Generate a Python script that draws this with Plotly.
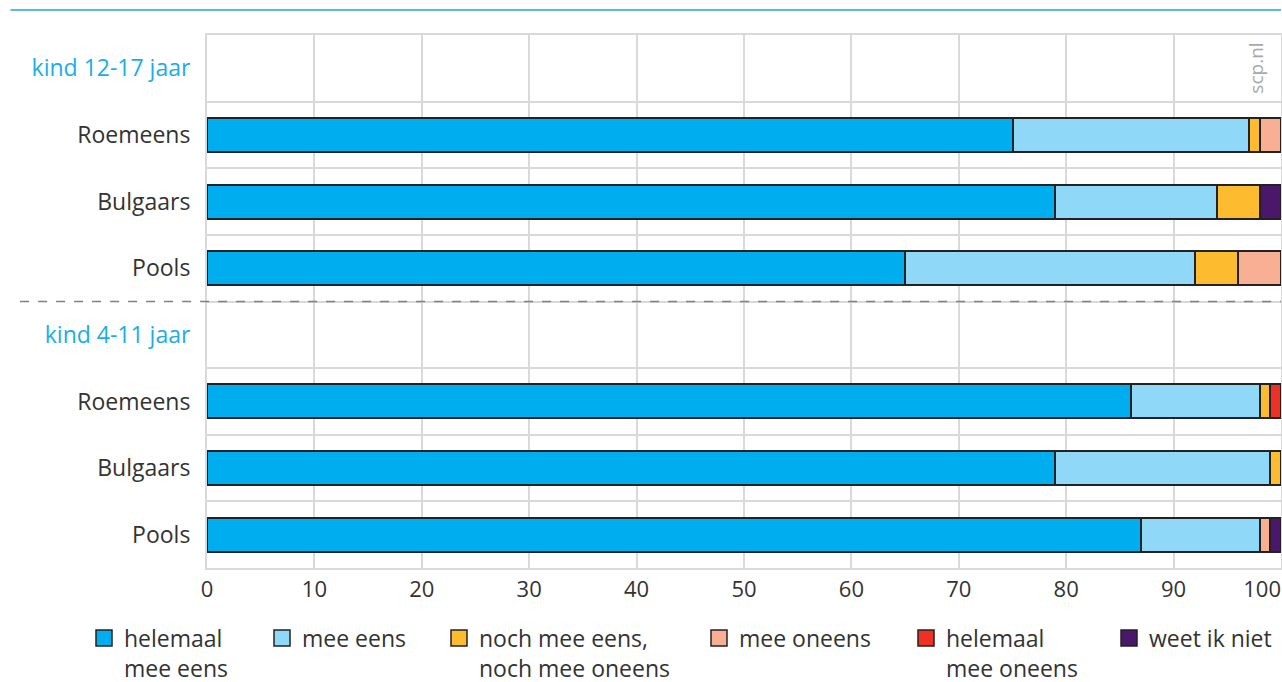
import plotly.graph_objects as go

# ---- data ----
row_ids = ["h1", "r1", "b1", "p1", "h2", "r2", "b2", "p2"]
row_labels = ["<span style='color:#1AAEE8'>kind 12-17 jaar</span>", "Roemeens", "Bulgaars", "Pools",
              "<span style='color:#1AAEE8'>kind 4-11 jaar</span>", "Roemeens", "Bulgaars", "Pools"]
bar_rows = ["r1", "b1", "p1", "r2", "b2", "p2"]

series_names = ["helemaal<br>mee eens", "mee eens", "noch mee eens,<br>noch mee oneens",
                "mee oneens", "helemaal<br>mee oneens", "weet ik niet"]
series_colors = ["#00AEEF", "#8FD8F7", "#FDBB30", "#F9AF93", "#EE3124", "#4A176B"]

helemaal_mee_eens = [75, 79, 65, 86, 79, 87]
mee_eens = [22, 15, 27, 12, 20, 11]
noch_noch = [1, 4, 4, 1, 1, 0]
mee_oneens = [2, 0, 4, 0, 0, 1]
helemaal_mee_oneens = [0, 0, 0, 1, 0, 0]
weet_ik_niet = [0, 2, 0, 0, 0, 1]
series_values = [helemaal_mee_eens, mee_eens, noch_noch, mee_oneens, helemaal_mee_oneens, weet_ik_niet]

x_ticks = [0, 10, 20, 30, 40, 50, 60, 70, 80, 90, 100]

# legend entry left positions (pixels in the 1282 px wide container)
legend_px = [84, 262, 439, 699, 906, 1109]

FONT = "Open Sans"
TXT = "#333333"
GRID = "#D9D9D9"
W, H = 1282, 682

fig = go.Figure()
for name, color, vals in zip(series_names, series_colors, series_values):
    fig.add_trace(go.Bar(
        y=bar_rows, x=vals, orientation="h", name=name,
        marker=dict(color=color, line=dict(color="#222222", width=2)),
        width=0.51, showlegend=False, hoverinfo="x+name",
    ))

legend_layouts = {}
for i, (name, color) in enumerate(zip(series_names, series_colors)):
    lg = "legend" if i == 0 else f"legend{i + 1}"
    fig.add_trace(go.Scatter(
        x=[None], y=[None], mode="markers", name=name, legend=lg,
        marker=dict(symbol="square", size=16, color=color, line=dict(color="#222222", width=1.5)),
        showlegend=True,
    ))
    legend_layouts[lg] = dict(
        orientation="h", xref="container", yref="container",
        x=legend_px[i] / W, y=0.096, xanchor="left", yanchor="top", valign="top",
        font=dict(size=23, color=TXT), itemclick=False, itemdoubleclick=False,
        bgcolor="rgba(0,0,0,0)",
    )

tick_text = [str(v) for v in x_ticks]
tick_text[-1] = "100<span style='color:rgba(255,255,255,0)'>000</span>"

fig.update_layout(
    width=W, height=H,
    margin=dict(l=207, r=1, t=35, b=114),
    plot_bgcolor="white", paper_bgcolor="white",
    barmode="stack",
    font=dict(family=FONT, size=23, color=TXT),
    xaxis=dict(range=[0, 100], tickvals=x_ticks, ticktext=tick_text, automargin=False,
               showgrid=True, gridcolor=GRID, gridwidth=2, zeroline=False,
               showline=True, linecolor=GRID, linewidth=2, mirror=True, layer="below traces",
               ticks="", ticklabelstandoff=1, ticklabeloverflow="allow",
               tickfont=dict(size=22, color=TXT), fixedrange=True),
    yaxis=dict(type="category", categoryorder="array", categoryarray=row_ids,
               range=[7.5, -0.5], tickvals=row_ids, ticktext=row_labels, automargin=False,
               tickson="boundaries", showgrid=True, gridcolor=GRID, gridwidth=2,
               showline=True, linecolor=GRID, linewidth=2, mirror=True, layer="below traces",
               ticks="", ticklabelstandoff=10, zeroline=False,
               tickfont=dict(size=23, color=TXT), fixedrange=True),
    shapes=[
        dict(type="line", xref="paper", yref="paper", x0=-0.183, x1=1, y0=1.047, y1=1.047,
             line=dict(color="#5DB8E3", width=2)),
        dict(type="line", xref="paper", yref="y", x0=-0.174, x1=1, y0=3.5, y1=3.5,
             line=dict(color="#808080", width=1.5, dash="dash"), layer="above"),
    ],
    annotations=[
        dict(text="scp.nl", xref="paper", yref="y", x=0.991, y="h1", textangle=-90,
             showarrow=False, font=dict(size=19, color="#A8A8A8")),
    ],
    **legend_layouts,
)

fig.write_html("out.html", config={"displayModeBar": False},
               post_script="document.body.style.margin='0';")
